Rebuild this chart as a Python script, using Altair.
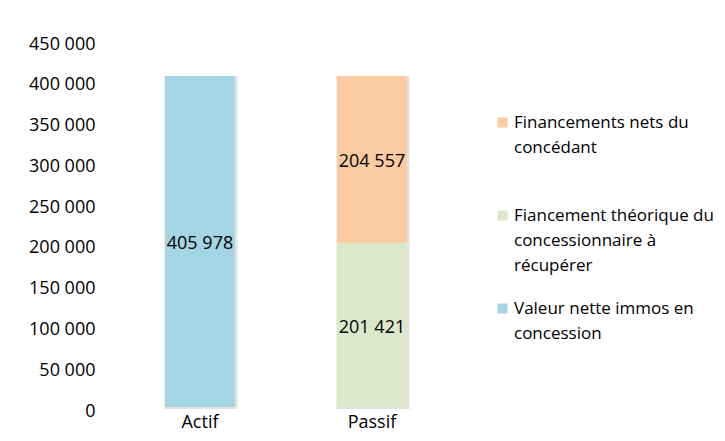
import altair as alt
import pandas as pd

categories = ["Actif", "Passif"]
series = [
    "Valeur nette immos en concession",
    "Fiancement théorique du concessionnaire à récupérer",
    "Financements nets du concédant",
]
series_lines = [
    ["Valeur nette immos en", "concession"],
    ["Fiancement théorique du", "concessionnaire à", "récupérer"],
    ["Financements nets du", "concédant"],
]
colors = ["#a4d5e2", "#dde8cb", "#facaa0"]
# values[series][category]
values = [
    [405978, 0],
    [0, 201421],
    [0, 204557],
]
y_ticks = [0, 50000, 100000, 150000, 200000, 250000, 300000, 350000, 400000, 450000]

rows = []
for ci, cat in enumerate(categories):
    base = 0
    for si, s in enumerate(series):
        v = values[si][ci]
        if v == 0:
            continue
        rows.append({"cat": cat, "series": s, "value": v, "start": base,
                     "end": base + v, "mid": base + v / 2})
        base += v
df = pd.DataFrame(rows)

legend_order = [series[2], series[1], series[0]]
color_order = [colors[2], colors[1], colors[0]]


def padded(lines):
    # trailing blank lines give every legend entry the same height
    out = list(lines)
    while len(out) < 4:
        out.append("")
    return out


label_expr = " : ".join(
    f"datum.label == '{s}' ? [" + ", ".join(f"'{l}'" for l in padded(lines)) + "]"
    for s, lines in zip(series, series_lines)
) + " : datum.label"

fmt = "replace(format(datum.value, ','), ',', ' ')"

x_enc = alt.X("cat:N", sort=categories, title=None,
              scale=alt.Scale(paddingInner=0, paddingOuter=0),
              axis=alt.Axis(labelAngle=0, ticks=False, domain=False, labelFontSize=18,
                            labelColor="#000000", labelPadding=6, labelFont="Open Sans"))
y_scale = alt.Scale(domain=[0, 450000], nice=False, zero=True)

base = alt.Chart(df)

shadow = base.mark_bar(width=73, color="#e2e2e2", xOffset=1, yOffset=2).encode(
    x=x_enc,
    y=alt.Y("start:Q", scale=y_scale, title=None,
            axis=alt.Axis(values=y_ticks, grid=False, ticks=False, domain=False,
                          labelFontSize=18, labelColor="#000000", labelPadding=19,
                          labelOffset=4,
                          labelFont="Open Sans", labelExpr=fmt)),
    y2="end:Q",
)

bars = base.mark_bar(width=70).encode(
    x=x_enc,
    y=alt.Y("start:Q", scale=y_scale),
    y2="end:Q",
    color=alt.Color("series:N",
                    scale=alt.Scale(domain=legend_order, range=color_order),
                    legend=alt.Legend(
                        title=None, orient="none", legendX=380, legendY=74,
                        symbolType="square", symbolSize=100, symbolStrokeWidth=0,
                        labelFontSize=17, labelFont="Open Sans", labelColor="#000000",
                        labelLimit=400, labelOffset=3, rowPadding=0, padding=0,
                        labelBaseline="middle", labelExpr=label_expr,
                    )),
)

texts = base.transform_calculate(
    lbl=fmt
).mark_text(fontSize=18, font="Open Sans", color="#000000", baseline="middle",
            dy=3).encode(
    x=alt.X("cat:N", sort=categories),
    y=alt.Y("mid:Q", scale=y_scale),
    text="lbl:N",
)

chart = alt.layer(shadow, bars, texts).properties(
    width=344, height=367,
    autosize=alt.AutoSizeParams(type="none"),
    padding={"left": 106, "top": 32, "right": 259, "bottom": 26},
).configure(
    font="Open Sans",
    style={"guide-label": {"lineHeight": 25}},
    view={"stroke": "transparent", "strokeWidth": 0},
)

chart.save("out.html", embed_options={"renderer": "svg", "actions": False})
